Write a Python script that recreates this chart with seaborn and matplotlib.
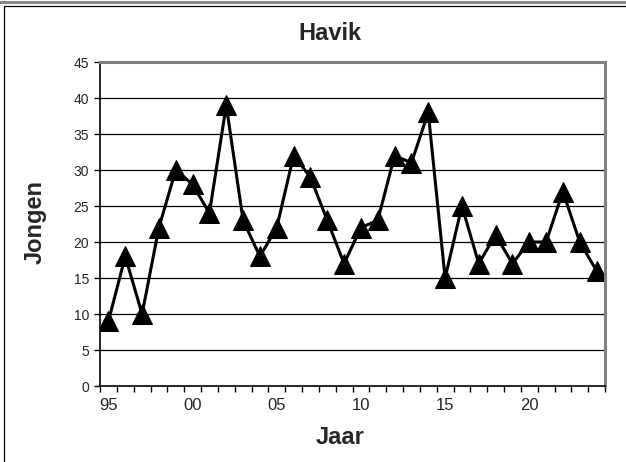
import matplotlib
matplotlib.use('Agg')
import matplotlib.pyplot as plt
import numpy as np
import pandas as pd
import seaborn as sns

# data: one point per year 1995-2024
years = list(range(1995, 2025))
jongen = [9, 18, 10, 22, 30, 28, 24, 39, 23, 18,
          22, 32, 29, 23, 17, 22, 23, 32, 31, 38,
          15, 25, 17, 21, 17, 20, 20, 27, 20, 16]
label_years = ['95', '00', '05', '10', '15', '20']

df = pd.DataFrame({'pos': np.arange(len(years)), 'jongen': jongen})

sns.set_style('white')
plt.rcParams['font.family'] = ['Liberation Sans', 'DejaVu Sans']

W, H = 626, 462
fig = plt.figure(figsize=(W / 100, H / 100), dpi=100)

# chart area frame (only top/left visible in the crop)
fig.add_artist(plt.Line2D([0, 1], [1 - 1.5 / H, 1 - 1.5 / H], color='#888888', lw=2.2, transform=fig.transFigure))
fig.add_artist(plt.Rectangle((4 / W, -0.1), 1.2, 1.1 - 6 / H, fill=False, edgecolor='black', lw=0.9, transform=fig.transFigure))

ax = fig.add_axes([100 / W, 1 - 386 / H, 505 / W, 324 / H])

sns.lineplot(data=df, x='pos', y='jongen', ax=ax, color='black', linewidth=2.2,
             marker='^', markersize=14, markeredgecolor='black', markerfacecolor='black')

ax.set_ylim(0, 45)
ax.set_yticks(range(0, 50, 5))
ax.set_xlim(-0.5, len(years) - 0.5)

# horizontal gridlines
for v in range(5, 45, 5):
    ax.axhline(v, color='black', lw=0.9, zorder=0)

# ticks between categories, labels every 5 years
ax.set_xticks(np.arange(-0.5, len(years), 1.0))
ax.set_xticklabels([])
ax.set_xticks(np.arange(0, len(years), 5), minor=True)
ax.set_xticklabels(label_years, minor=True, fontsize=12)
ax.tick_params(axis='x', which='major', direction='out', length=4, width=1, color='black', bottom=True)
ax.tick_params(axis='x', which='minor', length=0, pad=9)
ax.tick_params(axis='y', direction='out', length=4, width=1, color='black', labelsize=10, pad=4, left=True)

for s in ['top', 'right']:
    ax.spines[s].set_color('#808080')
    ax.spines[s].set_linewidth(2.2)
for s in ['left', 'bottom']:
    ax.spines[s].set_color('black')
    ax.spines[s].set_linewidth(1.2)

ax.set_xlabel('')
ax.set_ylabel('')
fig.text(330 / W, 1 - 33 / H, 'Havik', ha='center', va='center', fontsize=17, fontweight='bold')
fig.text(35 / W, 1 - 222 / H, 'Jongen', ha='center', va='center', rotation=90, fontsize=17, fontweight='bold')
fig.text(340 / W, 1 - 438 / H, 'Jaar', ha='center', va='center', fontsize=17, fontweight='bold')

fig.savefig('out.png', dpi=100)
